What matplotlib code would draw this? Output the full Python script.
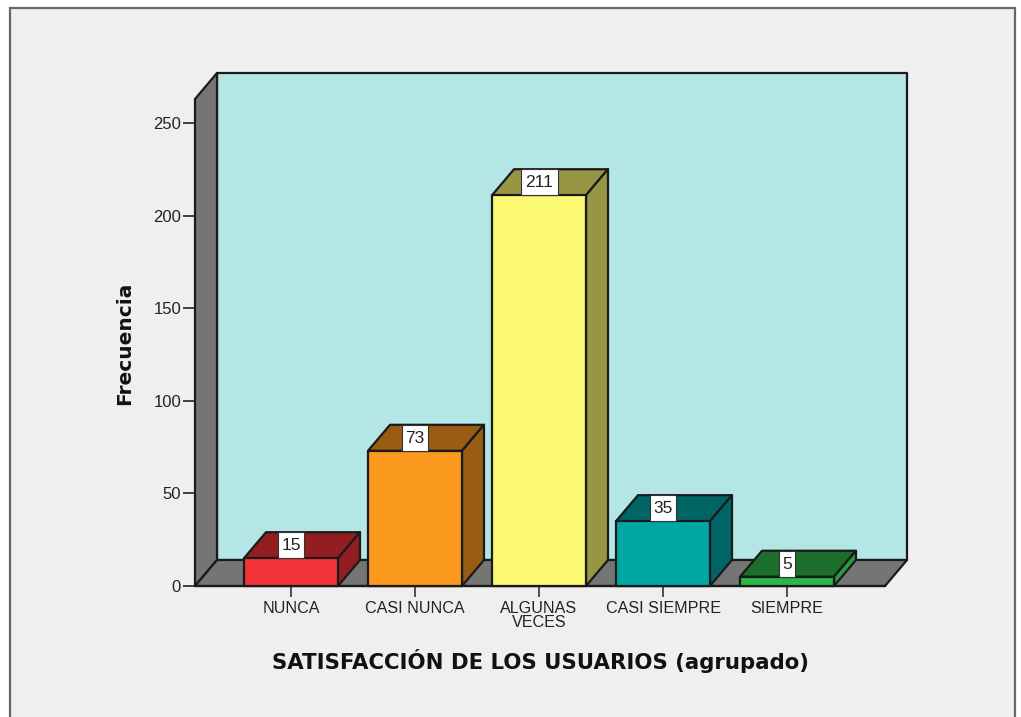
import matplotlib
matplotlib.use('Agg')
import matplotlib.pyplot as plt
from matplotlib.patches import Polygon, Rectangle

categories = ['NUNCA', 'CASI NUNCA', 'ALGUNAS\nVECES', 'CASI SIEMPRE', 'SIEMPRE']
values = [15, 73, 211, 35, 5]
front_colors = ['#f2333a', '#fb981e', '#fbf873', '#00a7a5', '#2db745']
top_colors = ['#921e22', '#985c12', '#989645', '#006564', '#1c6f2a']
side_colors = ['#921e22', '#985c12', '#989645', '#006564', '#2a9a3c']
y_ticks = [0, 50, 100, 150, 200, 250]

W, H = 1021, 717
plt.rcParams['font.family'] = ['Liberation Sans', 'DejaVu Sans']

fig = plt.figure(figsize=(W / 100, H / 100), dpi=100, facecolor='white')

# picture frame, runs off the bottom like the original
fig.add_artist(Rectangle((10 / W, -0.02), 1005 / W, 1.02 - 8 / H, transform=fig.transFigure,
                         facecolor='#efefef', edgecolor='#666666', linewidth=1.6, zorder=-1))

left, right, y0, y_top = 195, 885, 586, 99
ax = fig.add_axes([left / W, (H - y0) / H, (right - left) / W, (y0 - y_top) / H])
ax.patch.set_visible(False)
px_x = 124.0            # pixels per category
px_y = 463.0 / 250      # pixels per count
ax.set_xlim(-96 / px_x, 4 + 98 / px_x)
ax.set_ylim(0, (y0 - y_top) / px_y)
x_min, x_max = ax.get_xlim()
y_max = ax.get_ylim()[1]
dx = 22 / px_x          # 3d depth
dy = 26 / px_y
bar_w = 94 / px_x
edge = '#1a1a1a'


def poly(pts, color, z=2, lw=1.6):
    ax.add_patch(Polygon(pts, closed=True, facecolor=color, edgecolor=edge, linewidth=lw,
                         joinstyle='round', clip_on=False, zorder=z))


# walls and floor
poly([(x_min + dx, dy), (x_max + dx, dy), (x_max + dx, y_max + dy), (x_min + dx, y_max + dy)], '#b5e6e6', 1)
poly([(x_min, 0), (x_min + dx, dy), (x_min + dx, y_max + dy), (x_min, y_max)], '#757575', 1)
poly([(x_min, 0), (x_max, 0), (x_max + dx, dy), (x_min + dx, dy)], '#757575', 1)

for i in range(len(values)):
    v = values[i]
    x1 = i - bar_w / 2
    x2 = i + bar_w / 2
    poly([(x1, v), (x2, v), (x2 + dx, v + dy), (x1 + dx, v + dy)], top_colors[i], 2 + i)
    poly([(x2, 0), (x2 + dx, dy), (x2 + dx, v + dy), (x2, v)], side_colors[i], 2 + i)
    poly([(x1, 0), (x2, 0), (x2, v), (x1, v)], front_colors[i], 2 + i)
    # value label box sits on the top face
    n = len(str(v))
    box_w = (5.5 + 10.5 * n) / px_x
    ax.add_patch(Rectangle((i - box_w / 2, v), box_w, dy, facecolor='white', edgecolor='#333333',
                           linewidth=0.8, clip_on=False, zorder=10))
    ax.text(i, v + dy / 2 - 0.3, str(v), ha='center', va='center', fontsize=12.5,
            color='#222222', clip_on=False, zorder=11)

for s in ['top', 'right', 'bottom', 'left']:
    ax.spines[s].set_visible(False)
ax.plot([x_min, x_max], [0, 0], color=edge, linewidth=1.6, clip_on=False, zorder=1.5)

ax.set_yticks(y_ticks)
ax.set_xticks(range(len(categories)))
ax.set_xticklabels(categories, linespacing=0.92)
ax.tick_params(axis='y', length=8.5, width=1.2, color='#222222', labelsize=12, labelcolor='#222222', pad=1.5)
ax.tick_params(axis='x', length=8, width=1.2, color='#333333', labelsize=11.6, labelcolor='#222222', pad=3)

fig.text(125 / W, 1 - 343 / H, 'Frecuencia', rotation=90, ha='center', va='center',
         fontsize=14.5, fontweight='bold', color='#111111', family=['DejaVu Sans'])
fig.text(540 / W, 1 - 661 / H, 'SATISFACCIÓN DE LOS USUARIOS (agrupado)', ha='center', va='center',
         fontsize=15.3, fontweight='bold', color='#111111', family=['DejaVu Sans'])

fig.savefig('out.png', dpi=100, facecolor=fig.get_facecolor())
